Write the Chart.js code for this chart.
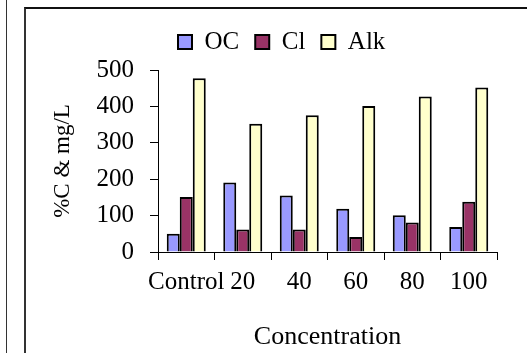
<!DOCTYPE html>
<html lang="en">

<head>
    <meta charset="UTF-8">
    <title>Concentration</title>
    <script src="https://cdn.jsdelivr.net/npm/chart.js"></script>
    <style>
        body { margin: 0; background: #fff; width: 527px; height: 353px; overflow: hidden; position: relative; }
        .linha_esq { position: absolute; left: 6px; top: 0; width: 1px; height: 353px; background: #333; }
        .moldura { position: absolute; left: 24px; top: 7px; width: 520px; height: 360px; border-left: 2px solid #333; border-top: 2px solid #111; }
        #grafico { position: absolute; left: 0; top: 0; }
    </style>
</head>

<body>
    <div class="linha_esq"></div>
    <div class="moldura"></div>
    <canvas id="grafico" width="527" height="353"></canvas>
</body>

<script>
    const categorias = ['Control', '20', '40', '60', '80', '100'];
    const oc = [50, 191, 155, 119, 101, 69];
    const cl = [151, 62, 62, 41, 81, 138];
    const alk = [477, 352, 376, 401, 427, 452];
    const ticksY = [0, 100, 200, 300, 400, 500];

    const fonte = 'Liberation Serif';

    // puxa a legenda pra posicao do original (nao fica centrada)
    const moverLegenda = {
        id: 'moverLegenda',
        afterLayout(chart) {
            const leg = chart.legend;
            const pad = leg.options.labels.padding;
            const w = leg.right - leg.left;
            const h = leg.bottom - leg.top;
            leg.left = 178 - pad;
            leg.right = leg.left + w;
            leg.top = 42 - 12.5 - pad;
            leg.bottom = leg.top + h;
        }
    };

    const ctx = document.getElementById('grafico').getContext('2d');
    new Chart(ctx, {
        type: 'bar',
        data: {
            labels: categorias,
            datasets: [
                { label: 'OC', data: oc, backgroundColor: '#9999FF', borderColor: '#000', borderWidth: 2 },
                { label: 'Cl', data: cl, backgroundColor: '#993366', borderColor: '#000', borderWidth: 2 },
                { label: 'Alk', data: alk, backgroundColor: '#FFFFCC', borderColor: '#000', borderWidth: 2 }
            ]
        },
        plugins: [moverLegenda],
        options: {
            responsive: false,
            animation: false,
            categoryPercentage: 0.69,
            barPercentage: 1,
            layout: { padding: { left: 30, right: 30, top: 19, bottom: 0 } },
            plugins: {
                legend: {
                    display: true,
                    align: 'start',
                    labels: {
                        boxWidth: 14,
                        boxHeight: 14,
                        padding: 16,
                        color: '#000',
                        font: { family: fonte, size: 25 }
                    }
                },
                tooltip: { enabled: false }
            },
            scales: {
                x: {
                    offset: true,
                    grid: { offset: true, drawOnChartArea: false, tickLength: 8, color: '#000' },
                    border: { display: true, color: '#000', width: 1 },
                    ticks: { color: '#000', padding: 7.5, maxRotation: 0, autoSkip: false, font: { family: fonte, size: 25 } },
                    title: {
                        display: true,
                        text: 'Concentration',
                        color: '#000',
                        padding: { top: 16.8, bottom: 0 },
                        font: { family: fonte, size: 26 }
                    }
                },
                y: {
                    min: 0,
                    max: 500,
                    afterBuildTicks(axis) { axis.ticks = ticksY.map(v => ({ value: v })); },
                    grid: { drawOnChartArea: false, tickLength: 8, color: '#000' },
                    border: { display: true, color: '#000', width: 1 },
                    ticks: { color: '#000', padding: 16, font: { family: fonte, size: 25 } },
                    title: {
                        display: true,
                        text: '%C & mg/L',
                        color: '#000',
                        padding: { top: 19.2, bottom: 3.7 },
                        font: { family: fonte, size: 23 }
                    }
                }
            }
        }
    });
</script>

</html>
